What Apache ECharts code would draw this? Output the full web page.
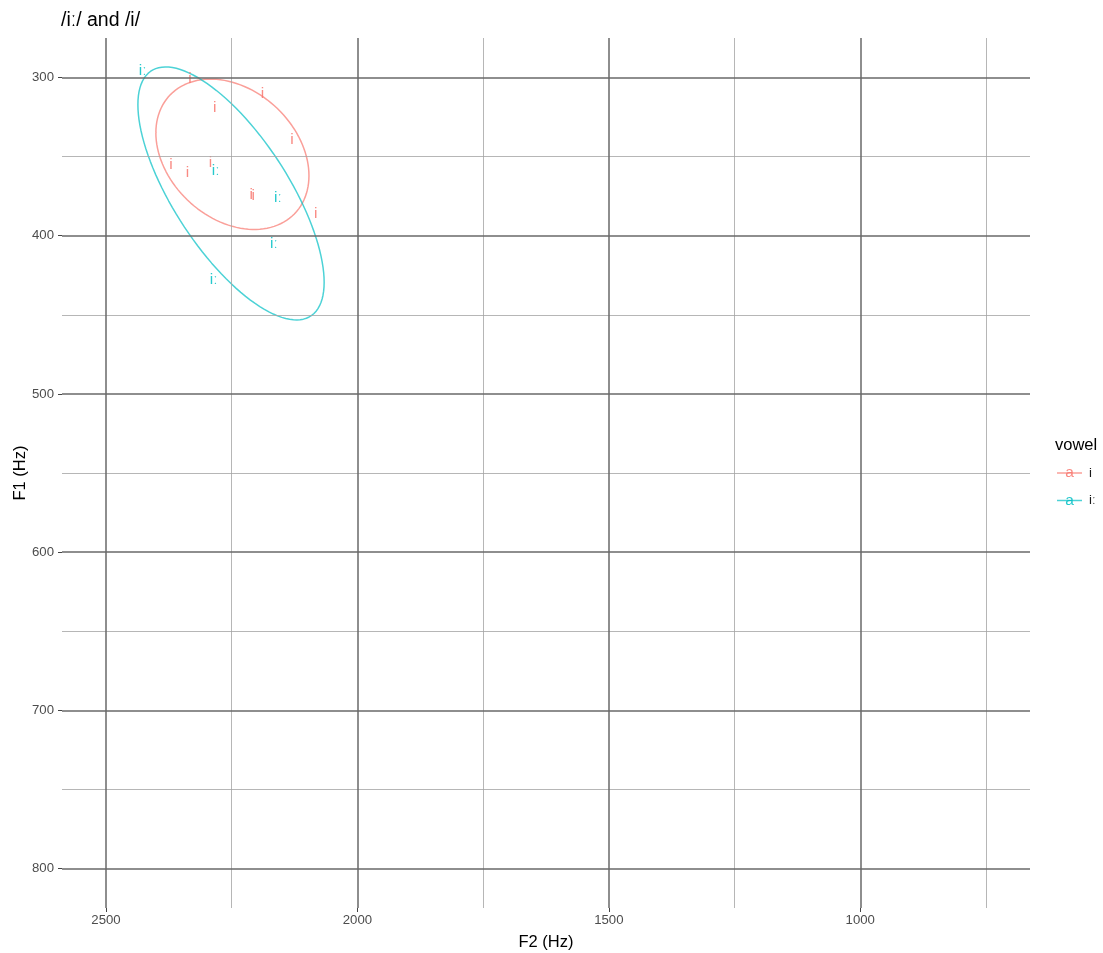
<!DOCTYPE html>
<html>
<head>
<meta charset="utf-8">
<script src="https://cdn.jsdelivr.net/npm/echarts@6/dist/echarts.min.js"></script>
<style>
  html, body { margin: 0; padding: 0; background: #ffffff; }
  #chart { width: 1103px; height: 953px; }
</style>
</head>
<body>
<div id="chart"></div>
<script>
// Vowel formant measurements (Hz)
const vowelNames = ['i', 'iː'];
const vowelColors = ['#F8766D', '#00BFC4'];

const iF2 = [2333, 2189, 2284, 2130, 2371, 2338, 2292, 2211, 2207, 2083];
const iF1 = [301, 310, 319, 339, 355, 360, 354, 374, 375, 386];

const iiF2 = [2427, 2282, 2158, 2166, 2286];
const iiF1 = [296, 359, 376, 405, 428];

// Axis breaks
const xMajor = [2500, 2000, 1500, 1000];
const xMinor = [2250, 1750, 1250, 750];
const yMajor = [300, 400, 500, 600, 700, 800];
const yMinor = [350, 450, 550, 650, 750];

const FONT = '"Liberation Sans", Arial, Helvetica, sans-serif';
const ELLIPSE_LEVEL = 0.75;

// Robust multivariate-t location/scatter estimate (2 variables)
function robustScatter(xs, ys, nu) {
  const n = xs.length, p = 2;
  let w = new Array(n).fill(1);
  let lx = xs.reduce((a, b) => a + b, 0) / n;
  let ly = ys.reduce((a, b) => a + b, 0) / n;
  let dx = [], dy = [];
  for (let iter = 0; iter < 25; iter++) {
    const w0 = w.slice();
    dx = xs.map(v => v - lx);
    dy = ys.map(v => v - ly);
    const sw = w.reduce((a, b) => a + b, 0);
    let sxx = 0, syy = 0, sxy = 0;
    for (let k = 0; k < n; k++) {
      sxx += w[k] * dx[k] * dx[k];
      syy += w[k] * dy[k] * dy[k];
      sxy += w[k] * dx[k] * dy[k];
    }
    sxx /= sw; syy /= sw; sxy /= sw;
    const det = sxx * syy - sxy * sxy;
    w = dx.map((ex, k) => {
      const ey = dy[k];
      const q = (syy * ex * ex - 2 * sxy * ex * ey + sxx * ey * ey) / det;
      return (nu + p) / (nu + q);
    });
    const sw2 = w.reduce((a, b) => a + b, 0);
    lx = xs.reduce((a, v, k) => a + w[k] * v, 0) / sw2;
    ly = ys.reduce((a, v, k) => a + w[k] * v, 0) / sw2;
    if (w.every((v, k) => Math.abs(v - w0[k]) < 0.01)) break;
  }
  let cxx = 0, cyy = 0, cxy = 0;
  for (let k = 0; k < n; k++) {
    cxx += w[k] * dx[k] * dx[k];
    cyy += w[k] * dy[k] * dy[k];
    cxy += w[k] * dx[k] * dy[k];
  }
  return { cx: lx, cy: ly, sxx: cxx / n, syy: cyy / n, sxy: cxy / n };
}

// Confidence ellipse outline for one group
function ellipse(xs, ys, level, segments) {
  const n = xs.length;
  const est = robustScatter(xs, ys, 5);
  const d = n - 1;
  const fq = (d / 2) * (Math.pow(1 - level, -2 / d) - 1);
  const radius = Math.sqrt(2 * fq);
  const a = Math.sqrt(est.sxx);
  const b = est.sxy / a;
  const c = Math.sqrt(est.syy - b * b);
  const pts = [];
  for (let s = 0; s <= segments; s++) {
    const t = 2 * Math.PI * s / segments;
    const u = Math.cos(t) * radius, v = Math.sin(t) * radius;
    pts.push([est.cx + u * a, est.cy + u * b + v * c]);
  }
  return pts;
}

function pairs(xs, ys) { return xs.map((x, k) => [x, ys[k]]); }

const groups = [
  { name: vowelNames[0], color: vowelColors[0], f2: iF2, f1: iF1 },
  { name: vowelNames[1], color: vowelColors[1], f2: iiF2, f1: iiF1 }
];

const series = [];

// Grid lines
function gridSeries(xs, ys, color, width) {
  return {
    type: 'line', data: [], silent: true, z: 1,
    markLine: {
      silent: true, symbol: ['none', 'none'], animation: false,
      label: { show: false },
      lineStyle: { color: color, width: width, type: 'solid' },
      emphasis: { disabled: true },
      data: xs.map(v => ({ xAxis: v })).concat(ys.map(v => ({ yAxis: v })))
    }
  };
}
series.push(gridSeries(xMinor, yMinor, '#a3a3a3', 0.8));
series.push(gridSeries(xMajor, yMajor, '#686868', 1.5));

groups.forEach(g => {
  series.push({
    name: g.name, type: 'line', z: 3,
    data: ellipse(g.f2, g.f1, ELLIPSE_LEVEL, 120),
    showSymbol: false, symbol: 'none', smooth: false,
    lineStyle: { color: g.color, width: 1.5, opacity: 0.7 },
    silent: true
  });
  series.push({
    name: g.name, type: 'scatter', z: 4,
    data: pairs(g.f2, g.f1),
    symbol: 'circle', symbolSize: 1,
    itemStyle: { opacity: 0 },
    label: {
      show: true, position: 'inside', formatter: g.name,
      color: g.color, opacity: 0.85, fontSize: 15.5, fontFamily: FONT,
      align: 'center', verticalAlign: 'middle'
    },
    silent: true
  });
});

// Legend drawn as key glyphs
const legendItems = [{
  type: 'text', x: 1055, y: 445,
  style: { text: 'vowel', fontSize: 16.5, fontFamily: FONT, fill: '#000', verticalAlign: 'middle' }
}];
groups.forEach((g, k) => {
  const y = 473 + k * 27.5;
  legendItems.push({
    type: 'line', shape: { x1: 1057, y1: y, x2: 1082, y2: y },
    style: { stroke: g.color, lineWidth: 1.5, opacity: 0.7 }
  });
  legendItems.push({
    type: 'text', x: 1069.5, y: y,
    style: { text: 'a', fontSize: 15.5, fontFamily: FONT, fill: g.color, opacity: 0.85,
             align: 'center', verticalAlign: 'middle' }
  });
  legendItems.push({
    type: 'text', x: 1089, y: y,
    style: { text: g.name, fontSize: 13.2, fontFamily: FONT, fill: '#1a1a1a',
             align: 'left', verticalAlign: 'middle' }
  });
});

const plain = v => String(v);

const chart = echarts.init(document.getElementById('chart'), null, { renderer: 'canvas' });
chart.setOption({
  animation: false,
  backgroundColor: '#ffffff',
  title: {
    text: '/iː/ and /i/', left: 61, top: 11, padding: 0,
    textStyle: { fontSize: 19.5, fontWeight: 'normal', color: '#000', fontFamily: FONT }
  },
  grid: { left: 62, right: 73, top: 38, bottom: 45, outerBoundsMode: 'none', containLabel: false },
  xAxis: {
    type: 'value', inverse: true, min: 662.5, max: 2587.5,
    name: 'F2 (Hz)', nameLocation: 'middle', nameGap: 26, nameMoveOverlap: false,
    nameTextStyle: { fontSize: 16.5, color: '#000', fontFamily: FONT },
    axisLine: { show: false },
    splitLine: { show: false },
    axisTick: { show: true, customValues: xMajor, length: 4, lineStyle: { color: '#444', width: 1 } },
    axisLabel: { customValues: xMajor, formatter: plain, color: '#4d4d4d', fontSize: 13.2, margin: 6, fontFamily: FONT }
  },
  yAxis: {
    type: 'value', inverse: true, min: 275, max: 825,
    name: 'F1 (Hz)', nameLocation: 'middle', nameGap: 33, nameMoveOverlap: false,
    nameTextStyle: { fontSize: 16.5, color: '#000', fontFamily: FONT },
    axisLine: { show: false },
    splitLine: { show: false },
    axisTick: { show: true, customValues: yMajor, length: 4, lineStyle: { color: '#444', width: 1 } },
    axisLabel: { customValues: yMajor, formatter: plain, color: '#4d4d4d', fontSize: 13.2, margin: 8, fontFamily: FONT }
  },
  series: series,
  graphic: legendItems
});
</script>
</body>
</html>
